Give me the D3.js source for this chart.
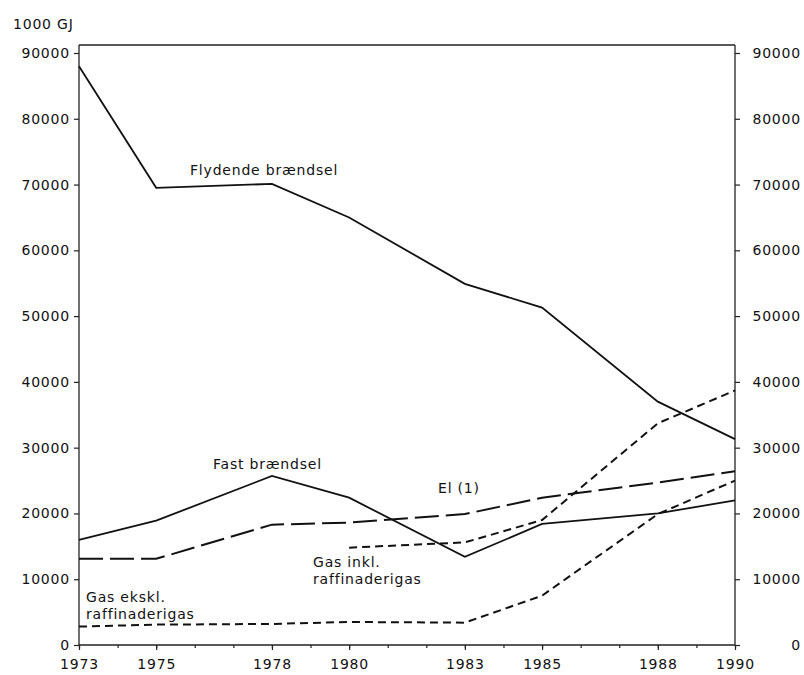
<!DOCTYPE html>
<html>
<head>
<meta charset="utf-8">
<script src="https://cdn.jsdelivr.net/npm/d3@7"></script>
<style>
body { margin: 0; background: #fff; }
svg text { font-family: "DejaVu Sans", sans-serif; font-size: 14px; fill: #111; letter-spacing: 0.8px; }
</style>
</head>
<body>
<svg width="804" height="675"></svg>
<script>
// data (1000 GJ)
var years = [1973, 1975, 1978, 1980, 1983, 1985, 1988, 1990];
var flydende = [88000, 69500, 70100, 65000, 54900, 51300, 37000, 31300];
var fast = [16000, 18900, 25700, 22400, 13400, 18400, 20000, 22000];
var el = [13100, 13100, 18300, 18600, 19900, 22400, 24700, 26400];
var gasInklYears = [1980, 1983, 1985, 1988, 1990];
var gasInkl = [14800, 15600, 19000, 33700, 38700];
var gasEkskl = [2800, 3100, 3200, 3500, 3400, 7500, 19900, 25000];

var yTicks = [0, 10000, 20000, 30000, 40000, 50000, 60000, 70000, 80000, 90000];
var allYears = d3.range(1973, 1991);

var svg = d3.select("svg");

var x = d3.scaleLinear().domain([1973, 1990]).range([79, 735]);
var y = d3.scaleLinear().domain([0, 90000]).range([645, 53]);

var topY = 45;

// frame
var frame = svg.append("g").style("stroke", "#222").style("stroke-width", 1.3).style("fill", "none");
frame.append("line").attr("x1", x(1973)).attr("x2", x(1990)).attr("y1", topY).attr("y2", topY);
frame.append("line").attr("x1", x(1973)).attr("x2", x(1973)).attr("y1", topY).attr("y2", y(0));
frame.append("line").attr("x1", x(1990)).attr("x2", x(1990)).attr("y1", topY).attr("y2", y(0));
frame.append("line").attr("x1", x(1973)).attr("x2", x(1990)).attr("y1", y(0)).attr("y2", y(0));

// left axis
var left = svg.append("g").attr("transform", "translate(" + x(1973) + ",0)")
	.call(d3.axisLeft(y).tickValues(yTicks).tickSize(5).tickPadding(4).tickFormat(d3.format("d")));
left.select(".domain").remove();

// right axis, labels flush right at window edge
var right = svg.append("g").attr("transform", "translate(" + x(1990) + ",0)")
	.call(d3.axisRight(y).tickValues(yTicks).tickSize(5).tickFormat(d3.format("d")));
right.select(".domain").remove();
right.selectAll("text").attr("x", 801 - x(1990)).attr("text-anchor", "end");

// bottom axis
svg.append("g").attr("transform", "translate(0," + y(0) + ")")
	.call(d3.axisBottom(x).tickValues(allYears).tickSize(3).tickFormat(""))
	.select(".domain").remove();
var bottom = svg.append("g").attr("transform", "translate(0," + y(0) + ")")
	.call(d3.axisBottom(x).tickValues(years).tickSize(5).tickPadding(9).tickFormat(d3.format("d")));
bottom.select(".domain").remove();

svg.selectAll(".tick line").style("stroke", "#222").style("stroke-width", 1.2);
svg.selectAll(".tick text").style("font-family", "DejaVu Sans").style("font-size", "14px").style("fill", "#111");

// series
var line = d3.line().x(function (d) { return x(d[0]); }).y(function (d) { return y(d[1]); });

function draw(xs, vs, dash, w) {
	svg.append("path")
		.datum(xs.map(function (t, i) { return [t, vs[i]]; }))
		.attr("d", line)
		.style("fill", "none")
		.style("stroke", "#111")
		.style("stroke-width", w)
		.style("stroke-dasharray", dash);
}

draw(years, flydende, null, 1.8);
draw(years, fast, null, 1.8);
draw(years, el, "24,7", 2);
draw(gasInklYears, gasInkl, "8,5", 2);
draw(years, gasEkskl, "8,5", 2);

// labels
function label(px, py, txt) {
	svg.append("text").attr("x", px).attr("y", py).text(txt);
}
label(13, 29, "1000 GJ");
label(190, 175, "Flydende brændsel");
label(213, 469, "Fast brændsel");
label(438, 493, "El (1)");
label(313, 567, "Gas inkl.");
label(313, 584, "raffinaderigas");
label(86, 602, "Gas ekskl.");
label(86, 619, "raffinaderigas");
</script>
</body>
</html>
